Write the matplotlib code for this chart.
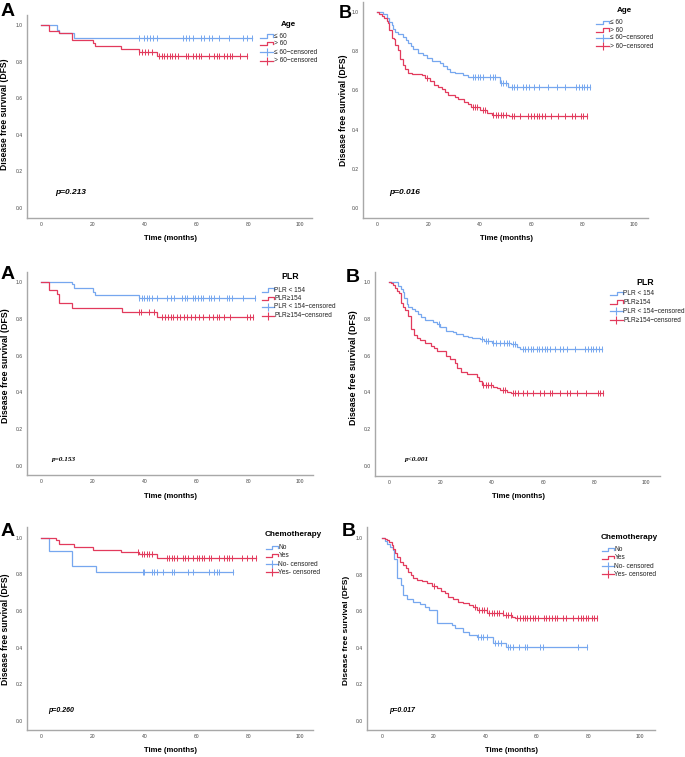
import numpy as np
import matplotlib
matplotlib.use('Agg')
import matplotlib.pyplot as plt
from matplotlib.lines import Line2D

W, H = 685, 757
BLUE = '#76a7ef'
RED = '#e23a5c'
SPINE = '#a8a8a8'
FONT = 'Liberation Sans'
plt.rcParams['font.family'] = [FONT, 'DejaVu Sans']

# ---------------- data ----------------
x_ticks = [0, 20, 40, 60, 80, 100]
y_ticks = [0.0, 0.2, 0.4, 0.6, 0.8, 1.0]
y_tick_labels = ['0.0', '0.2', '0.4', '0.6', '0.8', '1.0']

# Age, panel A
ageA_le60_t = [6.2, 7.2, 13.0]
ageA_le60_s = [0.973, 0.955, 0.927]
ageA_le60_c = [38.0, 40.0, 41.1, 42.2, 43.2, 44.7, 54.9, 55.9, 57.0, 58.9, 61.8,
               63.0, 65.0, 65.9, 68.9, 72.7, 77.9, 79.5, 81.5]
ageA_gt60_t = [3.2, 7.2, 12.0, 20.0, 21.0, 31.0, 37.8, 44.7]
ageA_gt60_s = [0.968, 0.955, 0.918, 0.903, 0.885, 0.867, 0.852, 0.833]
ageA_gt60_c = [38.0, 39.1, 40.2, 41.3, 43.0, 45.6, 46.7, 47.7, 48.7, 49.7, 50.8,
               51.9, 53.0, 55.9, 56.9, 58.9, 59.9, 60.9, 61.9, 64.9, 66.8, 67.9,
               68.8, 70.8, 71.9, 72.9, 73.8, 76.9, 79.4]

# Age, panel B
ageB_le60_t = [2.6, 3.9, 4.9, 5.8, 6.5, 7.1, 8.4, 10.3, 11.4, 12.3, 13.2, 14.0, 16.2,
               18.1, 19.7, 21.3, 24.6, 25.9, 27.2, 28.5, 30.4, 33.6, 35.6, 47.9, 51.1]
ageB_le60_s = [0.99, 0.97, 0.952, 0.935, 0.913, 0.90, 0.887, 0.875, 0.858, 0.845,
               0.828, 0.81, 0.793, 0.78, 0.765, 0.75, 0.742, 0.725, 0.708, 0.696,
               0.688, 0.679, 0.667, 0.636, 0.616]
ageB_le60_c = [37.3, 38.2, 39.2, 40.1, 41.1, 44.0, 45.0, 46.0, 48.3, 49.2, 50.1, 52.4,
               53.4, 54.6, 56.9, 58.0, 59.0, 61.1, 63.1, 66.5, 69.9, 73.0, 77.2, 78.4,
               79.6, 80.6, 81.8, 82.8]
ageB_gt60_t = [1.0, 1.9, 3.0, 3.9, 4.5, 4.9, 5.8, 6.7, 7.1, 8.4, 9.1, 10.1, 11.1, 12.3,
               13.6, 17.5, 18.8, 20.7, 22.3, 23.9, 25.2, 26.5, 27.8, 30.4, 31.7, 33.9,
               35.6, 36.5, 40.1, 42.7, 44.6, 51.5]
ageB_gt60_s = [0.99, 0.98, 0.973, 0.957, 0.944, 0.91, 0.87, 0.862, 0.833, 0.807, 0.76,
               0.73, 0.708, 0.691, 0.684, 0.677, 0.666, 0.648, 0.628, 0.616, 0.606,
               0.594, 0.577, 0.565, 0.555, 0.543, 0.529, 0.514, 0.50, 0.486, 0.476,
               0.468]
ageB_gt60_c = [19.7, 37.3, 38.2, 39.1, 41.1, 42.0, 45.3, 46.2, 47.2, 48.1, 49.2, 50.1,
               52.4, 53.4, 55.6, 58.9, 59.9, 61.1, 62.1, 63.1, 64.2, 65.2, 67.7, 70.5,
               73.2, 75.9, 77.0, 79.2, 80.2, 81.5]

# PLR, panel A
plrA_lo_t = [12.0, 12.9, 20.0, 21.0, 38.0]
plrA_lo_s = [0.989, 0.967, 0.949, 0.931, 0.913]
plrA_lo_c = [38.0, 38.9, 39.8, 40.9, 41.9, 43.1, 45.0, 48.6, 50.4, 51.4, 54.5, 55.5,
             56.6, 58.6, 59.6, 60.7, 61.7, 62.7, 64.8, 65.8, 66.8, 68.9, 71.7, 72.8,
             73.8, 77.9, 82.6]
plrA_hi_t = [3.3, 6.2, 7.2, 12.0, 31.2, 44.7]
plrA_hi_s = [0.958, 0.935, 0.889, 0.862, 0.84, 0.813]
plrA_hi_c = [38.0, 38.8, 41.9, 43.7, 46.7, 48.1, 49.1, 50.1, 51.2, 52.4, 53.7, 55.3,
             56.6, 57.8, 59.5, 61.2, 62.7, 64.8, 66.6, 67.9, 68.9, 70.7, 73.0, 79.4,
             80.7, 82.0]

# PLR, panel B
plrB_lo_t = [3.6, 4.7, 5.3, 5.8, 6.9, 7.5, 8.8, 10.1, 11.4, 12.3, 14.0, 17.3, 18.5,
             19.8, 22.2, 25.0, 26.1, 28.9, 30.9, 32.2, 35.4, 37.0, 40.0, 47.3, 49.7,
             51.0]
plrB_lo_s = [0.98, 0.962, 0.949, 0.913, 0.882, 0.867, 0.856, 0.844, 0.825, 0.809,
             0.795, 0.785, 0.773, 0.755, 0.736, 0.727, 0.716, 0.707, 0.70, 0.695,
             0.689, 0.68, 0.671, 0.662, 0.649, 0.636]
plrB_lo_c = [19.6, 36.1, 37.7, 38.7, 40.6, 41.6, 43.2, 44.7, 45.8, 46.8, 48.1, 49.0,
             52.0, 53.0, 54.2, 55.1, 56.2, 57.5, 58.5, 59.5, 60.6, 61.6, 62.6, 64.6,
             66.5, 67.8, 69.4, 72.2, 76.4, 77.6, 78.5, 79.5, 80.5, 81.6, 82.7]
plrB_hi_t = [0.6, 1.4, 2.3, 3.2, 4.0, 4.7, 5.6, 6.2, 7.5, 8.6, 9.7, 10.8, 12.1, 14.0,
             16.2, 17.5, 18.8, 22.2, 23.7, 25.7, 26.6, 27.9, 30.5, 34.1, 35.1, 36.1,
             40.3, 41.9, 43.2, 45.8, 47.3]
plrB_hi_s = [0.995, 0.985, 0.967, 0.955, 0.94, 0.885, 0.864, 0.849, 0.816, 0.744,
             0.713, 0.695, 0.685, 0.671, 0.653, 0.644, 0.625, 0.598, 0.58, 0.558,
             0.531, 0.513, 0.50, 0.482, 0.464, 0.44, 0.431, 0.422, 0.413, 0.404,
             0.395]
plrB_hi_c = [36.7, 37.7, 38.7, 39.6, 44.2, 45.1, 48.1, 49.2, 50.3, 52.3, 53.6, 56.2,
             58.8, 60.3, 62.6, 63.6, 66.5, 69.4, 70.4, 73.3, 76.7, 81.2, 82.2, 83.1]

# Chemotherapy, panel A
chemoA_no_t = [3.3, 12.0, 21.3]
chemoA_no_s = [0.927, 0.847, 0.811]
chemoA_no_c = [39.3, 40.0, 42.8, 43.7, 44.7, 47.0, 50.5, 51.3, 56.9, 58.9, 64.9, 66.8,
               67.9, 68.8, 74.0]
chemoA_yes_t = [5.9, 7.2, 12.9, 20.0, 30.8, 38.0, 44.7]
chemoA_yes_s = [0.987, 0.964, 0.947, 0.933, 0.92, 0.909, 0.887]
chemoA_yes_c = [37.7, 38.9, 39.8, 40.9, 41.9, 42.9, 48.6, 49.6, 50.5, 51.4, 52.4, 54.8,
                55.7, 56.9, 58.9, 60.2, 61.2, 62.2, 63.0, 65.0, 65.5, 68.9, 70.7, 71.7,
                72.8, 73.6, 77.5, 79.4, 81.4, 83.0]

# Chemotherapy, panel B
chemoB_no_t = [1.0, 1.9, 3.0, 4.0, 4.7, 5.8, 7.1, 8.2, 9.4, 11.8, 14.6, 16.6, 18.2,
               21.1, 26.9, 28.2, 31.2, 33.8, 36.6, 42.8, 48.0]
chemoB_no_s = [0.987, 0.969, 0.954, 0.936, 0.885, 0.781, 0.744, 0.689, 0.665, 0.653,
               0.64, 0.625, 0.607, 0.537, 0.525, 0.506, 0.488, 0.47, 0.457, 0.428,
               0.406]
chemoB_no_c = [37.3, 38.2, 39.2, 40.5, 43.7, 45.0, 45.9, 48.9, 49.7, 50.8, 53.2, 55.4,
               56.0, 61.2, 62.5, 76.1, 79.6]
chemoB_yes_t = [1.0, 1.9, 2.7, 3.6, 4.3, 4.9, 5.8, 6.9, 8.2, 9.2, 10.1, 11.0, 12.0,
                13.3, 15.3, 17.5, 19.1, 21.1, 22.6, 24.3, 25.6, 27.6, 29.5, 31.4, 33.8,
                35.3, 36.9, 40.7, 47.0, 50.2, 51.5]
chemoB_yes_s = [0.996, 0.991, 0.982, 0.963, 0.94, 0.918, 0.896, 0.872, 0.854, 0.835,
                0.817, 0.799, 0.781, 0.771, 0.766, 0.753, 0.739, 0.726, 0.713, 0.698,
                0.68, 0.665, 0.653, 0.644, 0.634, 0.622, 0.607, 0.592, 0.58, 0.57,
                0.561]
chemoB_yes_c = [20.2, 36.0, 37.6, 38.6, 39.5, 40.5, 41.5, 42.4, 43.3, 44.4, 45.4, 46.7,
                47.9, 48.9, 49.8, 52.4, 53.4, 54.5, 55.4, 56.3, 57.3, 58.3, 59.2, 60.5,
                62.7, 63.7, 64.7, 65.8, 67.0, 67.9, 70.2, 71.3, 74.1, 76.1, 77.0, 78.0,
                79.0, 79.9, 81.2, 82.1, 83.2]

age_labels = ['\u2264 60', '> 60', '\u2264 60\u2212censored', '> 60\u2212censored']
plr_labels = ['PLR < 154', 'PLR\u2265154', 'PLR < 154\u2212censored', 'PLR\u2265154\u2212censored']
chemo_labels = ['No', 'Yes', 'No- censored', 'Yes- censored']

fig = plt.figure(figsize=(W / 100, H / 100), dpi=100)
fig.patch.set_facecolor('white')


def fx(x):
    return x / W


def fy(y):
    return 1 - y / H


def km(ax, t, s, c, color):
    t = np.asarray(t, float)
    s = np.asarray(s, float)
    c = np.asarray(c, float)
    end = max(c.max(), t.max())
    tt = np.r_[0, t, end]
    ss = np.r_[1.0, s, s[-1]]
    ax.step(tt, ss, where='post', color=color, lw=0.9, solid_joinstyle='miter')
    idx = np.searchsorted(t, c, side='right')
    cy = np.r_[1.0, s][idx]
    ax.plot(c, cy, ls='none', marker='|', ms=4.8, mew=0.7, color=color)


def panel(geom, series, letter, letter_xy, letter_fs, ylab_xy, ylab_fs, xlab_xy, xlab_fs,
          ptext, p_xy, p_fs, p_family, leg_title, leg_labels, title_xy, title_fs,
          hx, rows, leg_fs):
    Lx, Rx, Ty, By, x0, x100, y1, y0 = geom
    ax = fig.add_axes([fx(Lx), fy(By), (Rx - Lx) / W, (By - Ty) / H])
    ax.set_xlim((Lx - x0) / (x100 - x0) * 100, (Rx - x0) / (x100 - x0) * 100)
    ax.set_ylim((y0 - By) / (y0 - y1), (y0 - Ty) / (y0 - y1))
    for t, s, c, col in series:
        km(ax, t, s, c, col)
    ax.spines['top'].set_visible(False)
    ax.spines['right'].set_visible(False)
    for sp in ['left', 'bottom']:
        ax.spines[sp].set_color(SPINE)
        ax.spines[sp].set_linewidth(1.0)
    ax.set_xticks(x_ticks)
    ax.set_xticklabels([str(v) for v in x_ticks])
    ax.set_yticks(y_ticks)
    ax.set_yticklabels(y_tick_labels)
    ax.tick_params(length=0, labelsize=3.6, colors='#444444', pad=3)
    ax.set_facecolor('none')
    fig.text(fx(letter_xy[0]), fy(letter_xy[1]), letter, fontsize=letter_fs, fontweight='bold',
             ha='left', va='center')
    fig.text(fx(ylab_xy[0]), fy(ylab_xy[1]), 'Disease free survival (DFS)', rotation=90,
             fontsize=ylab_fs, fontweight='bold', ha='center', va='center')
    fig.text(fx(xlab_xy[0]), fy(xlab_xy[1]), 'Time (months)', fontsize=xlab_fs,
             fontweight='bold', ha='center', va='center')
    fig.text(fx(p_xy[0]), fy(p_xy[1]), ptext, fontsize=p_fs, fontweight='bold',
             fontstyle='italic', family=p_family, ha='left', va='center')
    # legend
    fig.text(fx(title_xy[0]), fy(title_xy[1]), leg_title, fontsize=title_fs,
             fontweight='bold', ha='center', va='center')
    cols = [BLUE, RED, BLUE, RED]
    h0, h1 = hx
    for i, (lab, y) in enumerate(zip(leg_labels, rows)):
        col = cols[i]
        if i < 2:
            xm = h0 + 0.55 * (h1 - h0)
            xs = np.array([h0, xm, xm, h1, h1])
            ys = np.array([y + 1.5, y + 1.5, y - 1.8, y - 1.8, y + 0.5])
            fig.add_artist(Line2D(fx(xs), fy(ys), color=col, lw=0.9))
        else:
            fig.add_artist(Line2D(fx(np.array([h0, h1])), fy(np.array([y, y])),
                                  color=col, lw=0.9))
            xm = 0.5 * (h0 + h1)
            fig.add_artist(Line2D([fx(xm)], [fy(y)], ls='none', marker='|', ms=6,
                                  mew=0.8, color=col))
        fig.text(fx(h1 + 0.5), fy(y), lab, fontsize=leg_fs, ha='left', va='center',
                 color='#222222')
    return ax


# Panel 1 : Age A
panel((27, 312, 15, 218, 40.7, 300, 25, 208),
      [(ageA_le60_t, ageA_le60_s, ageA_le60_c, BLUE),
       (ageA_gt60_t, ageA_gt60_s, ageA_gt60_c, RED)],
      'A', (1, 12), 14, (5, 114), 6.2, (170, 239), 5.6,
      'p=0.213', (55, 193), 6.0, [FONT],
      'Age', age_labels, (288, 24.5), 5.8, (260, 273), [36, 43.5, 52.3, 60.7], 4.7)

# Panel 2 : Age B
panel((362.7, 648, 2, 218, 376.7, 634.3, 12.3, 207.7),
      [(ageB_le60_t, ageB_le60_s, ageB_le60_c, BLUE),
       (ageB_gt60_t, ageB_gt60_s, ageB_gt60_c, RED)],
      'B', (339, 13), 13, (344, 110), 6.2, (506, 239), 5.6,
      'p=0.016', (389, 193), 6.0, [FONT],
      'Age', age_labels, (624, 10.7), 5.8, (596, 609), [22.7, 30, 37.7, 46], 4.7)

# Panel 3 : PLR A
panel((26.7, 313, 271.7, 475, 40.7, 300, 282.3, 465.7),
      [(plrA_lo_t, plrA_lo_s, plrA_lo_c, BLUE),
       (plrA_hi_t, plrA_hi_s, plrA_hi_c, RED)],
      'A', (1, 275), 14, (5.5, 366), 6.4, (170, 496), 5.6,
      'p=0.153', (52, 459), 5.2, ['Liberation Serif'],
      'PLR', plr_labels, (290, 276.7), 6.3, (261.5, 274), [290, 298.5, 306.7, 315.5], 4.7)

# Panel 4 : PLR B
panel((375, 660, 271.7, 476, 389, 646, 282.3, 465.7),
      [(plrB_lo_t, plrB_lo_s, plrB_lo_c, BLUE),
       (plrB_hi_t, plrB_hi_s, plrB_hi_c, RED)],
      'B', (346, 277), 14, (353.5, 367.5), 6.4, (518, 496), 5.6,
      'p<0.001', (405, 459), 5.2, ['Liberation Serif'],
      'PLR', plr_labels, (645, 282.3), 6.3, (610, 622.5), [293.3, 302.3, 311, 320], 4.7)

# Panel 5 : Chemotherapy A
panel((26.7, 313, 526.7, 730, 40.7, 300, 537.7, 720.7),
      [(chemoA_no_t, chemoA_no_s, chemoA_no_c, BLUE),
       (chemoA_yes_t, chemoA_yes_s, chemoA_yes_c, RED)],
      'A', (1, 531), 14, (5.5, 629), 6.2, (170.7, 750.5), 5.6,
      'p=0.260', (48, 710.7), 5.0, [FONT],
      'Chemotherapy', chemo_labels, (293.3, 535), 5.9, (265.5, 278), [547.3, 555.7, 564, 572.3], 4.8)

# Panel 6 : Chemotherapy B
panel((366.7, 655, 526.7, 730, 382.3, 640, 538.3, 720.7),
      [(chemoB_no_t, chemoB_no_s, chemoB_no_c, BLUE),
       (chemoB_yes_t, chemoB_yes_s, chemoB_yes_c, RED)],
      'B', (342, 531), 14, (346, 630), 6.0, (511.7, 750.5), 5.6,
      'p=0.017', (389, 710.7), 5.0, [FONT],
      'Chemotherapy', chemo_labels, (629.3, 537.3), 5.9, (601.5, 614), [549.3, 557.3, 566, 574.3], 4.8)

fig.savefig('out.png', dpi=100, facecolor='white')
